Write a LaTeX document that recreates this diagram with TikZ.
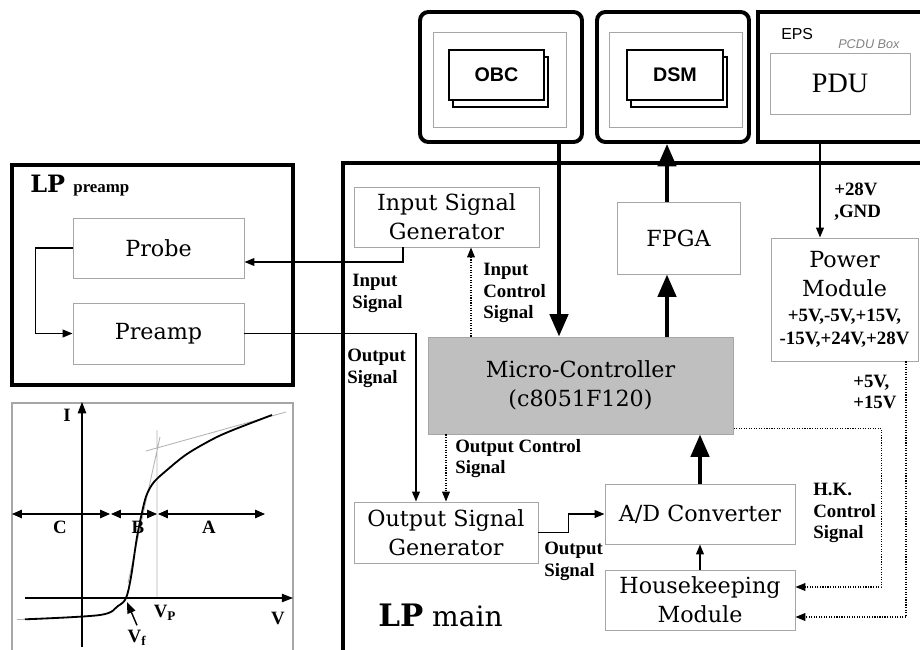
\documentclass[tikz,border=0pt]{standalone}
\usepackage{fontspec}
\newfontfamily\lblfont{Liberation Serif}
\newfontfamily\arialfont{Liberation Sans}
\newfontfamily\boxfont{DejaVu Serif}
\newcommand\lbf{\lblfont\bfseries\fontsize{13.4}{15.5}\selectfont}
\usetikzlibrary{arrows.meta}
\usetikzlibrary{calc}

\begin{document}
\begin{tikzpicture}
        [x=0.025cm, y=-0.025cm,
         sz/.style 2 args={minimum width=#1*0.025cm, minimum height=#2*0.025cm},
         box/.style={draw=gray!70, line width=0.7pt, fill=white, inner sep=0pt, align=center, font=\boxfont\fontsize{15.8}{20.5}\selectfont},
         frame/.style={draw, line width=2.8pt, inner sep=0pt},
         card/.style={draw, line width=1pt, fill=white, inner sep=0pt, font=\arialfont\bfseries\fontsize{14}{15}\selectfont},
         lbl/.style={inner sep=0pt, anchor=west, align=left, font=\lbf},
         sig/.style={line width=1.1pt, -{Triangle[length=7pt,width=5.5pt]}},
         ctl/.style={line width=0.8pt, densely dotted, -{Triangle[length=7pt,width=5.5pt]}},
         bus/.style={line width=2.8pt, -{Triangle[length=16pt,width=13pt]}},
         tip/.style={line width=0.8pt, -{Triangle[length=8pt,width=6pt]}}]
        \useasboundingbox (0,0) rectangle (920,650);
        \clip (0,0) rectangle (920,650);
        \node [frame, sz={281}{220}] (pre) at (152.5,275) {};
        \node [frame, sz={617}{537}] (main) at (651.5,431.5) {};
        \node [frame, rounded corners=6pt, sz={162}{130}] (obcf) at (501,77) {};
        \node [frame, rounded corners=6pt, sz={152}{130}] (dsmf) at (673,77) {};
        \node [frame, sz={182}{130}] (eps) at (849,77) {};
        \node [box, sz={133}{95}] (obcin) at (499.5,79.5) {};
        \node [box, sz={133}{95}] (dsmin) at (675.5,79.5) {};
        \node [card, sz={95}{50}] (obcb) at (500.5,82) {};
        \node [card, sz={95}{50}] (obc) at (496.5,75) {OBC};
        \node [card, sz={96}{50}] (dsmb) at (679,82) {};
        \node [card, sz={96}{50}] (dsm) at (675,75) {DSM};
        \node [anchor=west, inner sep=0pt, font=\arialfont\fontsize{11.3}{12}\selectfont] (epslbl) at (781,34) {EPS};
        \node [anchor=west, inner sep=0pt, text=gray, font=\arialfont\itshape\fontsize{9}{10}\selectfont] (pcdu) at (838,44) {PCDU Box};
        \node [box, sz={140}{61}, font=\lblfont\fontsize{20}{21}\selectfont] (pdu) at (840,83.5) {PDU};

        \node [anchor=west, inner sep=0pt, font=\boxfont\bfseries\fontsize{17}{18}\selectfont] (prelbl) at (30,186) {LP {\lbf\fontsize{12}{12}\selectfont preamp}};
        \node [box, sz={171}{60}] (probe) at (158.5,248) {Probe};
        \node [box, sz={171}{61}] (preamp) at (158.5,333.5) {Preamp};
        \draw [sig] (probe.west) -- ++(-37,0) |- (preamp.west);

        \node [box, sz={185}{60}] (isg) at (446.5,217) {Input Signal\\Generator};
        \node [box, sz={123}{72}] (fpga) at (678.5,238) {FPGA};
        \node [box, sz={147}{123}] (pwr) at (844.5,299.5) {Power\\Module\\[-3pt]{\lbf +5V,-5V,+15V,}\\[-4pt]{\lbf -15V,+24V,+28V}};
        \node [box, fill=gray!50, sz={305}{97}] (mc) at (580.5,385.5) {Micro-Controller\\(c8051F120)};
        \node [box, sz={184}{61}] (osg) at (446,532.5) {Output Signal\\Generator};
        \node [box, sz={190}{60}] (ad) at (700,514) {A/D Converter};
        \node [box, sz={190}{60}] (hk) at (700,600) {Housekeeping\\Module};
        \node [anchor=west, inner sep=0pt, font=\boxfont\fontsize{20}{22}\selectfont] (mainlbl) at (378,615) {{\fontsize{22}{22}\selectfont\bfseries LP} main};

        \coordinate (obcx) at (559,0);
        \coordinate (dsmx) at (667,0);
        \coordinate (pwrx) at (820,0);
        \coordinate (isgx) at (403,0);
        \coordinate (ictlx) at (471,0);
        \draw [bus] (obcf.south -| obcx) -- (mc.north -| obcx);
        \draw [bus] (mc.north -| dsmx) -- (fpga.south -| dsmx);
        \draw [bus] (fpga.north -| dsmx) -- (dsmf.south -| dsmx);
        \draw [bus] (ad.north) -- (ad.north |- mc.south);
        \draw [sig] (eps.south -| pwrx) -- (pwr.north -| pwrx);
        \draw [sig] (isg.south -| isgx) |- ($(probe.east)+(0,14)$);
        \draw [sig] (preamp.east) -| ([xshift=-0.75cm]osg.north);
        \draw [sig] (osg.east) -- ++(30,0) |- (ad.west);
        \draw [sig] (hk.north) -- (ad.south);
        \draw [ctl] (mc.north -| ictlx) -- (isg.south -| ictlx);
        \draw [ctl] (mc.south -| osg.north) -- (osg.north);
        \draw [ctl] ($(mc.south east)+(0,-6)$) -- ++(148,0) |- ($(hk.east)+(0,-13)$);
        \draw [ctl] ($(pwr.south)+(61.5,0)$) |- ($(hk.east)+(0,17)$);

        \node [lbl] (insig) at (352,293.5) {Input\\Signal};
        \node [lbl] (inctl) at (483,293) {Input\\Control\\Signal};
        \node [lbl] (outsig) at (347,368.5) {Output\\Signal};
        \node [lbl] (outctl) at (455,458.5) {Output Control\\Signal};
        \node [lbl] (adin) at (544,561.5) {Output\\Signal};
        \node [lbl] (pwrin) at (834,201.5) {+28V\\,GND};
        \node [lbl] (pwrout) at (853,392) {+5V,\\+15V};
        \node [lbl] (hkctl) at (813,513) {H.K.\\Control\\Signal};

        \node [draw=gray!70, line width=0.8pt, sz={281}{260}] (iv) at (152.5,533) {};
        \draw [gray!60, line width=0.6pt] (128,583) -- (160,437) (146,451) -- (286,412) (157,430) -- (157,598) (17,619.5) -- (30,619.3);
        \draw [line width=1.3pt] plot [smooth, tension=0.55] coordinates {(25,619.3) (100,615) (118,606) (126,598) (131,577) (137,537) (143,508) (147,494) (154,482) (167,470) (187,454) (213,439) (233,430) (272,415)};
        \draw [tip] (82,647) -- (82,402);
        \draw [tip] (25,598) -- (293,598);
        \foreach \a/\b in {12/110, 111/157, 158/265}
            \draw [line width=0.8pt, {Triangle[length=7pt,width=6pt]}-{Triangle[length=7pt,width=6pt]}] (\a,514) -- (\b,514);
        \node [font=\lbf] (ilbl) at (67,415) {I};
        \node [font=\lbf] (vlbl) at (278,618) {V};
        \node [font=\lbf] (vp) at (165,613) {V\textsubscript{P}};
        \node [font=\lbf] (vf) at (137,638) {V\textsubscript{f}};
        \node [font=\lbf] (clbl) at (60,527) {C};
        \node [font=\lbf] (blbl) at (138,527) {B};
        \node [font=\lbf] (albl) at (209,527) {A};
        \draw [tip, line width=1pt] (vf.north) -- (127,602);
\end{tikzpicture}
\end{document}
